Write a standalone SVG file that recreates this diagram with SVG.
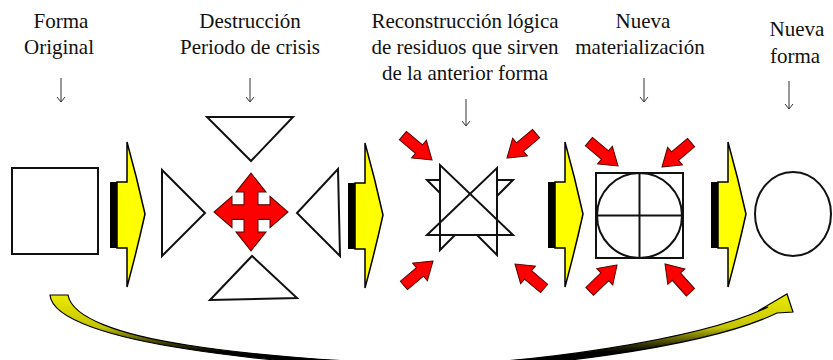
<svg xmlns="http://www.w3.org/2000/svg" xmlns:xlink="http://www.w3.org/1999/xlink" width="833" height="360" viewBox="0 0 833 360">
<style>
text{font-family:"Liberation Serif","Times New Roman",serif;font-size:21px;fill:#111;text-anchor:middle}
.shape{fill:#fff;stroke:#111;stroke-width:2;stroke-linejoin:miter}
.red{fill:#f00;stroke:#500;stroke-width:1;stroke-linejoin:miter}
.lbl{stroke:#333;stroke-width:1;fill:none;marker-end:url(#vhead)}
.line{stroke:#111;stroke-width:2;fill:none}
</style>
<defs>
<marker id="vhead" viewBox="0 0 10 10" refX="9.5" refY="5" markerWidth="10" markerHeight="10" orient="auto" markerUnits="userSpaceOnUse">
<path d="M4.5,1 L9.5,5 L4.5,9" fill="none" stroke="#333" stroke-width="1"/>
</marker>
<g id="block">
<rect x="0" y="-32" width="11" height="66" fill="#000"/>
<path d="M7,-32 H17 V-72 Q27,-36 35,0 Q27,36 17,73 V34 H7 Z" fill="#ff0" stroke="#000" stroke-width="1.5"/>
</g>
<path id="rarrow" d="M0,0 L-17,-11.5 L-17,-5.5 L-38,-5.5 L-38,5.5 L-17,5.5 L-17,11.5 Z"/>
<linearGradient id="curveGrad" gradientUnits="userSpaceOnUse" x1="0" y1="295" x2="0" y2="360">
<stop offset="0" stop-color="#eaea00"/>
<stop offset="0.5" stop-color="#c4c400"/>
<stop offset="0.75" stop-color="#3a3a00"/>
<stop offset="0.88" stop-color="#000"/>
<stop offset="1" stop-color="#000"/>
</linearGradient>
</defs>
<rect width="833" height="360" fill="#fff"/>

<g id="node-forma-original">
<text x="61" y="28">Forma</text>
<text x="59" y="54">Original</text>
<rect class="shape" x="12" y="168" width="86" height="86"/>
</g>

<g id="node-destruccion">
<text x="250" y="28">Destrucción</text>
<text x="250" y="54">Periodo de crisis</text>
<polygon class="shape" points="162,170 162,256 205,213"/>
<polygon class="shape" points="207,117 293,117 251,161"/>
<polygon class="shape" points="210,300 297,298 252,256"/>
<polygon class="shape" points="338,169 340,256 297,213"/>
<path class="red" transform="translate(251,212) scale(1,1.05)" d="M0,-37 L15,-19 L7,-19 L7,-7 L19,-7 L19,-15 L37,0 L19,15 L19,7 L7,7 L7,19 L15,19 L0,37 L-15,19 L-7,19 L-7,7 L-19,7 L-19,15 L-37,0 L-19,-15 L-19,-7 L-7,-7 L-7,-19 L-15,-19 Z"/>
</g>

<g id="node-reconstruccion">
<text x="465" y="28">Reconstrucción lógica</text>
<text x="465" y="54">de residuos que sirven</text>
<text x="465" y="80">de la anterior forma</text>
<polygon class="shape" points="427,180 440,180 440,193"/>
<polygon class="shape" points="513,180 497,180 497,196"/>
<polygon class="shape" points="440,235 455,235 440,250"/>
<polygon class="shape" points="477,235 497,235 497,255"/>
<polygon points="440,165 440,235 513,235" fill="#fff"/>
<polygon points="497,168 497,235 427,235" fill="#fff"/>
<polygon points="440,165 440,235 513,235" fill="none" stroke="#111" stroke-width="2"/>
<polygon points="497,168 497,235 427,235" fill="none" stroke="#111" stroke-width="2"/>
<use xlink:href="#rarrow" class="red" transform="translate(432,160) rotate(40)"/>
<use xlink:href="#rarrow" class="red" transform="translate(507,158) rotate(140)"/>
<use xlink:href="#rarrow" class="red" transform="translate(433,261) rotate(-40)"/>
<use xlink:href="#rarrow" class="red" transform="translate(515,264) rotate(-140)"/>
</g>

<g id="node-nueva-materializacion">
<text x="643" y="28">Nueva</text>
<text x="640" y="54">materialización</text>
<rect class="shape" x="596" y="173" width="87" height="85"/>
<circle class="line" cx="639.5" cy="215.5" r="42.5"/>
<line class="line" x1="639.5" y1="173" x2="639.5" y2="258"/>
<line class="line" x1="596" y1="215.5" x2="683" y2="215.5"/>
<use xlink:href="#rarrow" class="red" transform="translate(618,166) rotate(40)"/>
<use xlink:href="#rarrow" class="red" transform="translate(662,167) rotate(140)"/>
<use xlink:href="#rarrow" class="red" transform="translate(617,265) rotate(-44)"/>
<use xlink:href="#rarrow" class="red" transform="translate(665,264) rotate(-132)"/>
</g>

<g id="node-nueva-forma">
<text x="797" y="36">Nueva</text>
<text x="795" y="63">forma</text>
<ellipse class="shape" cx="793" cy="214" rx="38" ry="42"/>
</g>

<g id="connectors">
<line class="lbl" x1="61" y1="78" x2="61" y2="102"/>
<line class="lbl" x1="250" y1="78" x2="250" y2="102"/>
<line class="lbl" x1="466" y1="99" x2="466" y2="126"/>
<line class="lbl" x1="644" y1="78" x2="644" y2="102"/>
<line class="lbl" x1="789" y1="81" x2="789" y2="109"/>
<use xlink:href="#block" transform="translate(110,214)"/>
<use xlink:href="#block" transform="translate(348,215)"/>
<use xlink:href="#block" transform="translate(548,214)"/>
<use xlink:href="#block" transform="translate(711,214)"/>
<path d="M50,295 L68,295 C72,318 120,335 187,345 C250,355 340,362 420,364 C520,366 700,340 768,307 L758,311 L787,294 L793,312 L777,313 C705,348 520,371 420,369 C340,367 250,359 187,349 C115,338 52,320 50,295 Z" fill="url(#curveGrad)" stroke="#000" stroke-width="1.2" stroke-linejoin="miter"/>
</g>
</svg>
